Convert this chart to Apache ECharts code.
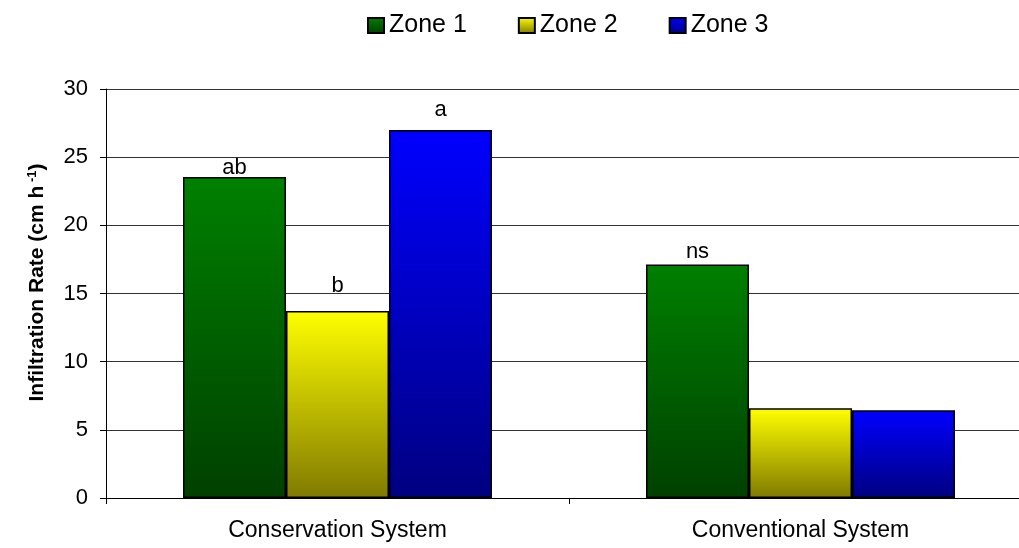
<!DOCTYPE html>
<html>
<head>
<meta charset="utf-8">
<script src="https://cdn.jsdelivr.net/npm/echarts@6/dist/echarts.min.js"></script>
<style>html,body{margin:0;padding:0;background:#fff;}#c{width:1019px;height:548px;}</style>
</head>
<body>
<div id="c"></div>
<script>
const categories = ['Conservation System', 'Conventional System'];
const seriesNames = ['Zone 1', 'Zone 2', 'Zone 3'];
const zone1 = [23.55, 17.12];
const zone2 = [13.72, 6.58];
const zone3 = [27.0, 6.43];
const zone1Labels = ['ab', 'ns'];
const zone2Labels = ['b', ''];
const zone3Labels = ['a', ''];
const yTicks = [0, 5, 10, 15, 20, 25, 30];

// styling (not data)
const FONT = 'Liberation Sans, Arial, sans-serif';
const gradients = [
  ['#008000', '#004000'],
  ['#ffff00', '#807a00'],
  ['#0000ff', '#000080']
];
const labelDist = [[-2, 2], [14, 0], [9, 0]];

function grad(c) {
  return new echarts.graphic.LinearGradient(0, 0, 0, 1, [
    { offset: 0, color: c[0] }, { offset: 1, color: c[1] }
  ]);
}

const values = [zone1, zone2, zone3];
const labels = [zone1Labels, zone2Labels, zone3Labels];

const series = seriesNames.map((name, si) => ({
  name: name,
  type: 'bar',
  barWidth: 103,
  barGap: '0%',
  itemStyle: { color: grad(gradients[si]), borderColor: '#000', borderWidth: 1.5 },
  data: values[si].map((v, i) => ({
    value: v,
    label: {
      show: labels[si][i] !== '',
      position: 'top',
      distance: labelDist[si][i],
      formatter: labels[si][i],
      color: '#000',
      fontSize: 22,
      fontFamily: FONT
    }
  }))
}));

const chart = echarts.init(document.getElementById('c'));
chart.setOption({
  animation: false,
  backgroundColor: '#fff',
  legend: {
    data: seriesNames,
    left: 362,
    top: 8,
    icon: 'rect',
    itemWidth: 16,
    itemHeight: 15,
    itemGap: 51,
    textStyle: { fontSize: 25, color: '#000', fontFamily: FONT }
  },
  grid: { left: 106, width: 926, top: 89, bottom: 50, containLabel: false, outerBoundsMode: 'none' },
  xAxis: {
    type: 'category',
    data: categories,
    boundaryGap: true,
    axisLine: { show: true, lineStyle: { color: '#000', width: 1 } },
    axisTick: { show: true, length: 6, lineStyle: { color: '#000' } },
    axisLabel: { margin: 21, fontSize: 23, color: '#000', fontFamily: FONT }
  },
  yAxis: {
    type: 'value',
    min: 0,
    max: 30,
    interval: 5,
    name: 'Infiltration Rate (cm h{sup| -1})',
    nameLocation: 'middle',
    nameGap: 58,
    nameRotate: 90,
    nameTextStyle: {
      fontSize: 21,
      fontWeight: 'bold',
      color: '#000',
      fontFamily: FONT,
      padding: [0, 0, 0, 22],
      rich: { sup: { fontSize: 13, fontWeight: 'bold', verticalAlign: 'top', padding: [0, 0, 9, 0], color: '#000', fontFamily: FONT } }
    },
    axisLine: { show: true, lineStyle: { color: '#000', width: 1 } },
    axisTick: { show: true, length: 6, lineStyle: { color: '#000' } },
    axisLabel: {
      margin: 18, fontSize: 22, color: '#000', fontFamily: FONT,
      formatter: v => yTicks.includes(v) ? String(v) : ''
    },
    splitLine: { show: true, lineStyle: { color: '#333', width: 1 } }
  },
  series: series
});
</script>
</body>
</html>
